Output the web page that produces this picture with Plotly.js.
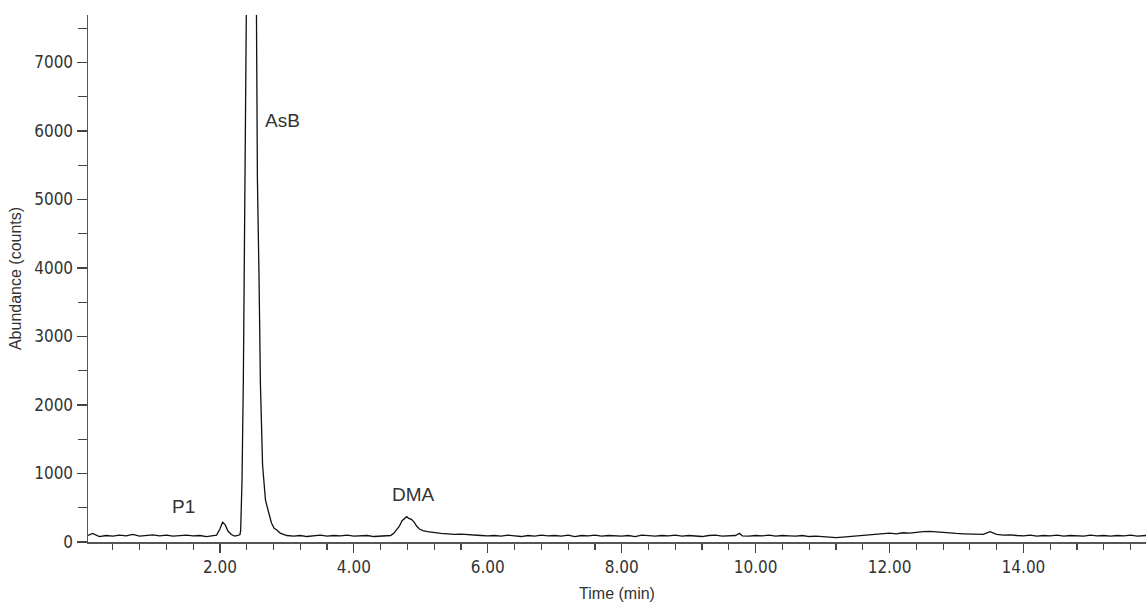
<!DOCTYPE html>
<html>
<head>
<meta charset="utf-8">
<script src="https://cdn.plot.ly/plotly-3.0.1.min.js"></script>
<style>html,body{margin:0;padding:0;background:#fff;}#chart{width:1146px;height:605px;}</style>
</head>
<body>
<div id="chart"></div>
<script>
// Retention time (min)
const timeMin = [
  0.03,0.1,0.2,0.3,0.4,0.5,0.6,0.7,0.8,0.9,1.0,1.1,1.2,1.3,1.4,1.5,1.6,1.7,1.8,1.9,
  1.95,2.0,2.04,2.08,2.12,2.17,2.22,2.27,2.30,
  2.31,2.33,2.35,2.37,2.38,2.395,2.42,2.46,2.49,2.52,2.54,2.56,2.585,2.605,2.637,2.66,2.68,2.73,2.77,2.81,2.85,2.9,2.95,3.0,
  3.1,3.2,3.3,3.4,3.5,3.6,3.7,3.8,3.9,4.0,4.1,4.2,4.3,4.4,4.5,4.55,
  4.6,4.65,4.68,4.72,4.76,4.79,4.82,4.86,4.9,4.94,4.98,5.03,5.1,5.2,5.3,5.4,5.5,5.6,5.7,5.8,5.9,6.0,
  6.1,6.2,6.3,6.4,6.5,6.6,6.7,6.8,6.9,7.0,7.1,7.2,7.3,7.4,7.5,7.6,7.7,7.8,7.9,8.0,
  8.1,8.2,8.3,8.4,8.5,8.6,8.7,8.8,8.9,9.0,9.1,9.2,9.3,9.4,9.5,9.6,9.7,9.76,9.8,9.9,10.0,
  10.1,10.2,10.3,10.4,10.5,10.6,10.7,10.8,10.9,11.0,11.1,11.2,11.3,11.4,11.5,
  11.6,11.7,11.8,11.9,12.0,12.1,12.2,12.3,12.4,12.5,12.6,12.7,12.8,12.9,13.0,13.1,13.2,13.3,13.4,13.5,13.6,13.7,13.8,13.9,
  14.0,14.1,14.2,14.3,14.4,14.5,14.6,14.7,14.8,14.9,15.0,15.1,15.2,15.3,15.4,15.5,15.6,15.7,15.83
];
// Abundance (counts)
const abundance = [
  95,125,80,95,85,100,90,110,85,95,105,90,100,85,95,100,90,95,80,90,
  100,190,290,250,160,110,85,95,110,
  170,900,2365,4300,5285,7800,13000,19000,19500,12000,7700,5300,3800,2300,1124,800,613,423,277,200,175,130,110,95,
  85,95,80,90,100,85,95,90,100,85,90,95,80,85,90,95,
  130,190,230,310,350,370,345,330,290,230,190,165,150,135,125,120,110,115,105,100,95,90,
  95,85,100,90,80,95,85,100,90,95,85,100,80,95,90,100,85,95,90,85,
  95,80,100,90,85,95,90,100,85,95,90,80,95,100,85,90,95,127,90,85,95,
  90,100,85,95,90,85,95,80,85,75,70,65,72,80,90,
  95,100,105,115,130,120,135,130,145,150,155,145,140,130,125,120,115,120,110,150,110,100,105,95,
  90,100,85,95,90,100,85,95,90,85,100,90,95,85,95,90,100,85,95
];
// Axis ticks
const xTickVals = [2,4,6,8,10,12,14];
const xTickText = ["2.00","4.00","6.00","8.00","10.00","12.00","14.00"];
const yTickVals = [0,1000,2000,3000,4000,5000,6000,7000];
const yTickText = ["0","1000","2000","3000","4000","5000","6000","7000"];
// Peak labels
const peakNames = ["P1","AsB","DMA"];
const peakLabelX = [1.46,2.94,4.89];
const peakLabelY = [515,6146,693];

const tickFont = {family:"Liberation Sans Narrow, Arial Narrow, DejaVu Sans Condensed, sans-serif", size:17, color:"#333"};
const titleFont = {family:"Liberation Sans, Arial, sans-serif", size:16, color:"#333"};

const trace = {
  x: timeMin, y: abundance, type: "scatter", mode: "lines",
  line: {color: "#111", width: 1.3}, hoverinfo: "x+y", showlegend: false
};

const layout = {
  width: 1146, height: 605,
  margin: {l: 88, r: 0, t: 15, b: 63},
  paper_bgcolor: "#fff", plot_bgcolor: "#fff",
  showlegend: false,
  xaxis: {
    range: [0.03, 15.83], tickvals: xTickVals, ticktext: xTickText,
    ticks: "outside", ticklen: 9, tickwidth: 1.2, tickcolor: "#444",
    showline: true, linecolor: "#555", linewidth: 1.5, mirror: false,
    showgrid: false, zeroline: false, tickfont: tickFont,
    minor: {tick0: 0, dtick: 0.4, ticks: "outside", ticklen: 6, tickwidth: 1.2, tickcolor: "#444", showgrid: false},
    title: {text: "Time (min)", font: titleFont, standoff: 12}
  },
  yaxis: {
    range: [0, 7693], tickvals: yTickVals, ticktext: yTickText,
    ticks: "outside", ticklen: 10, tickwidth: 1.2, tickcolor: "#444",
    showline: true, linecolor: "#555", linewidth: 1.5,
    showgrid: false, zeroline: false, tickfont: tickFont,
    minor: {tick0: 0, dtick: 500, ticks: "outside", ticklen: 9, tickwidth: 1.2, tickcolor: "#444", showgrid: false},
    title: {text: "Abundance (counts)", font: titleFont, standoff: 8}
  },
  annotations: peakNames.map((n, i) => ({
    x: peakLabelX[i], y: peakLabelY[i], xref: "x", yref: "y", text: n,
    showarrow: false, xanchor: "center", yanchor: "middle",
    font: {family: "Liberation Sans, Arial, sans-serif", size: 19, color: "#333"}
  }))
};

Plotly.newPlot("chart", [trace], layout, {displayModeBar: false, staticPlot: true});
</script>
</body>
</html>
